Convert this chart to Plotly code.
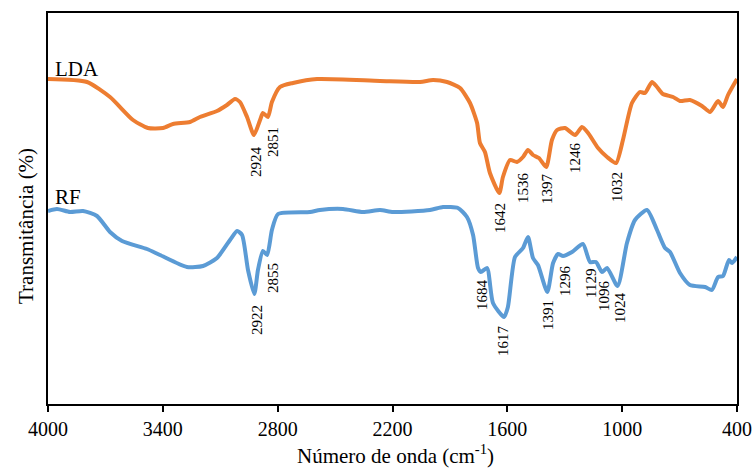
import plotly.graph_objects as go

# Wavenumber (cm-1) and relative transmittance (arbitrary units)
lda_wn = [4000, 3796, 3676, 3556, 3478, 3399, 3347, 3258, 3206, 3117, 3065, 3023, 2997, 2960,
          2924, 2892, 2877, 2851, 2830, 2788, 2720, 2594, 2265, 2056, 1988, 1915, 1847, 1795,
          1758, 1743, 1717, 1691, 1642, 1623, 1586, 1550, 1518, 1492, 1466, 1435, 1397, 1367,
          1340, 1299, 1246, 1210, 1178, 1126, 1079, 1032, 996, 949, 907, 881, 844, 818, 787,
          734, 698, 646, 583, 541, 499, 473, 447, 400]
lda_t = [325, 322, 307, 284, 276, 276, 280, 282, 287, 293, 299, 305, 302, 287,
         269, 284, 291, 287, 302, 317, 321, 325, 323, 322, 324, 322, 316, 301,
         281, 261, 252, 231, 211, 227, 244, 242, 247, 254, 249, 246, 237, 264,
         274, 276, 269, 277, 271, 256, 247, 241, 264, 301, 312, 311, 322, 317, 310,
         307, 303, 304, 298, 292, 303, 297, 309, 325]

rf_wn = [4000, 3953, 3885, 3817, 3744, 3676, 3613, 3483, 3415, 3274, 3190, 3117, 3049, 3012,
         2986, 2955, 2922, 2903, 2877, 2855, 2830, 2798, 2631, 2579, 2459, 2354, 2265, 2197,
         2004, 1936, 1858, 1811, 1779, 1753, 1738, 1706, 1675, 1617, 1597, 1560, 1518, 1492,
         1466, 1440, 1391, 1361, 1335, 1309, 1262, 1205, 1168, 1137, 1105, 1079, 1024, 975,
         933, 870, 818, 776, 750, 698, 646, 567, 531, 499, 473, 442, 426, 400]
rf_t = [193, 195, 192, 193, 188, 172, 163, 155, 149, 137, 138, 146, 164, 173,
        169, 134, 110, 134, 153, 149, 174, 190, 192, 194, 195, 192, 194, 192,
        194, 197, 196, 187, 169, 136, 132, 136, 101, 87, 97, 147, 156, 167,
        146, 139, 112, 141, 150, 148, 152, 160, 142, 142, 132, 136, 118, 161,
        184, 194, 174, 156, 152, 131, 119, 117, 114, 127, 128, 144, 141, 147]

lda_peaks = ["2924", "2851", "1642", "1536", "1397", "1246", "1032"]
rf_peaks = ["2922", "2855", "1684", "1617", "1391", "1296", "1129", "1096", "1024"]
x_ticks = [4000, 3400, 2800, 2200, 1600, 1000, 400]

# label anchor positions (layout)
lda_peak_pos = [(2913, 242), (2824, 262), (1638, 186), (1518, 216), (1393, 216), (1246, 246), (1027, 217)]
rf_peak_pos = [(2908, 84), (2824, 126), (1732, 109), (1623, 64), (1388, 89), (1299, 124),
               (1163, 121), (1095, 109), (1011, 96)]

FONT = "Liberation Serif, Times New Roman, serif"
W, H = 754, 470
PL, PR, PT, PB = 48, 737, 13, 404  # plot area in pixels


def paper_xy(px, py):
    return (px - PL) / (PR - PL), (PB - py) / (PB - PT)


fig = go.Figure()
fig.add_trace(go.Scatter(x=lda_wn, y=lda_t, mode="lines", name="LDA",
                         line=dict(color="#ED7D31", width=4, shape="spline", smoothing=0.6)))
fig.add_trace(go.Scatter(x=rf_wn, y=rf_t, mode="lines", name="RF",
                         line=dict(color="#5B9BD5", width=4, shape="spline", smoothing=0.6)))

ann = []
for txt, (px, py) in zip(lda_peaks + rf_peaks, lda_peak_pos + rf_peak_pos):
    ann.append(dict(x=px, y=py, xref="x", yref="y", text=txt, showarrow=False, textangle=-90,
                    xanchor="center", yanchor="middle",
                    font=dict(family=FONT, size=15, color="black")))
ann.append(dict(x=3973, y=335, xref="x", yref="y", text="LDA", showarrow=False, xanchor="left",
                yanchor="middle", font=dict(family=FONT, size=21, color="black")))
ann.append(dict(x=3973, y=207, xref="x", yref="y", text="RF", showarrow=False, xanchor="left",
                yanchor="middle", font=dict(family=FONT, size=21, color="black")))
tx, ty = paper_xy(26, 226)
ann.append(dict(x=tx, y=ty, xref="paper", yref="paper", text="Transmitância (%)",
                xanchor="center", yanchor="middle",
                showarrow=False, textangle=-90, font=dict(family=FONT, size=21, color="black")))
tx, ty = paper_xy(395, 455)
ann.append(dict(x=tx, y=ty, xref="paper", yref="paper",
                xanchor="center", yanchor="middle",
                text="Número de onda (cm<sup>-1</sup>)", showarrow=False,
                font=dict(family=FONT, size=21, color="black")))

fig.update_layout(
    width=W, height=H,
    margin=dict(l=PL, r=W - PR, t=PT, b=H - PB, autoexpand=False),
    paper_bgcolor="white", plot_bgcolor="white",
    showlegend=False,
    font=dict(family=FONT, color="black"),
    annotations=ann,
)
fig.update_xaxes(range=[4000, 400], tickvals=x_ticks, ticktext=[str(v) for v in x_ticks],
                 automargin=False,
                 showgrid=False, zeroline=False, showline=True, linecolor="black", linewidth=2,
                 mirror=True, ticks="outside", ticklen=6, tickcolor="black", tickwidth=2,
                 tickfont=dict(family=FONT, size=20, color="black"))
fig.update_yaxes(range=[0, 391], showticklabels=False, showgrid=False, zeroline=False,
                 automargin=False,
                 showline=True, linecolor="black", linewidth=2, mirror=True, ticks="")

fig.write_html("out.html")
